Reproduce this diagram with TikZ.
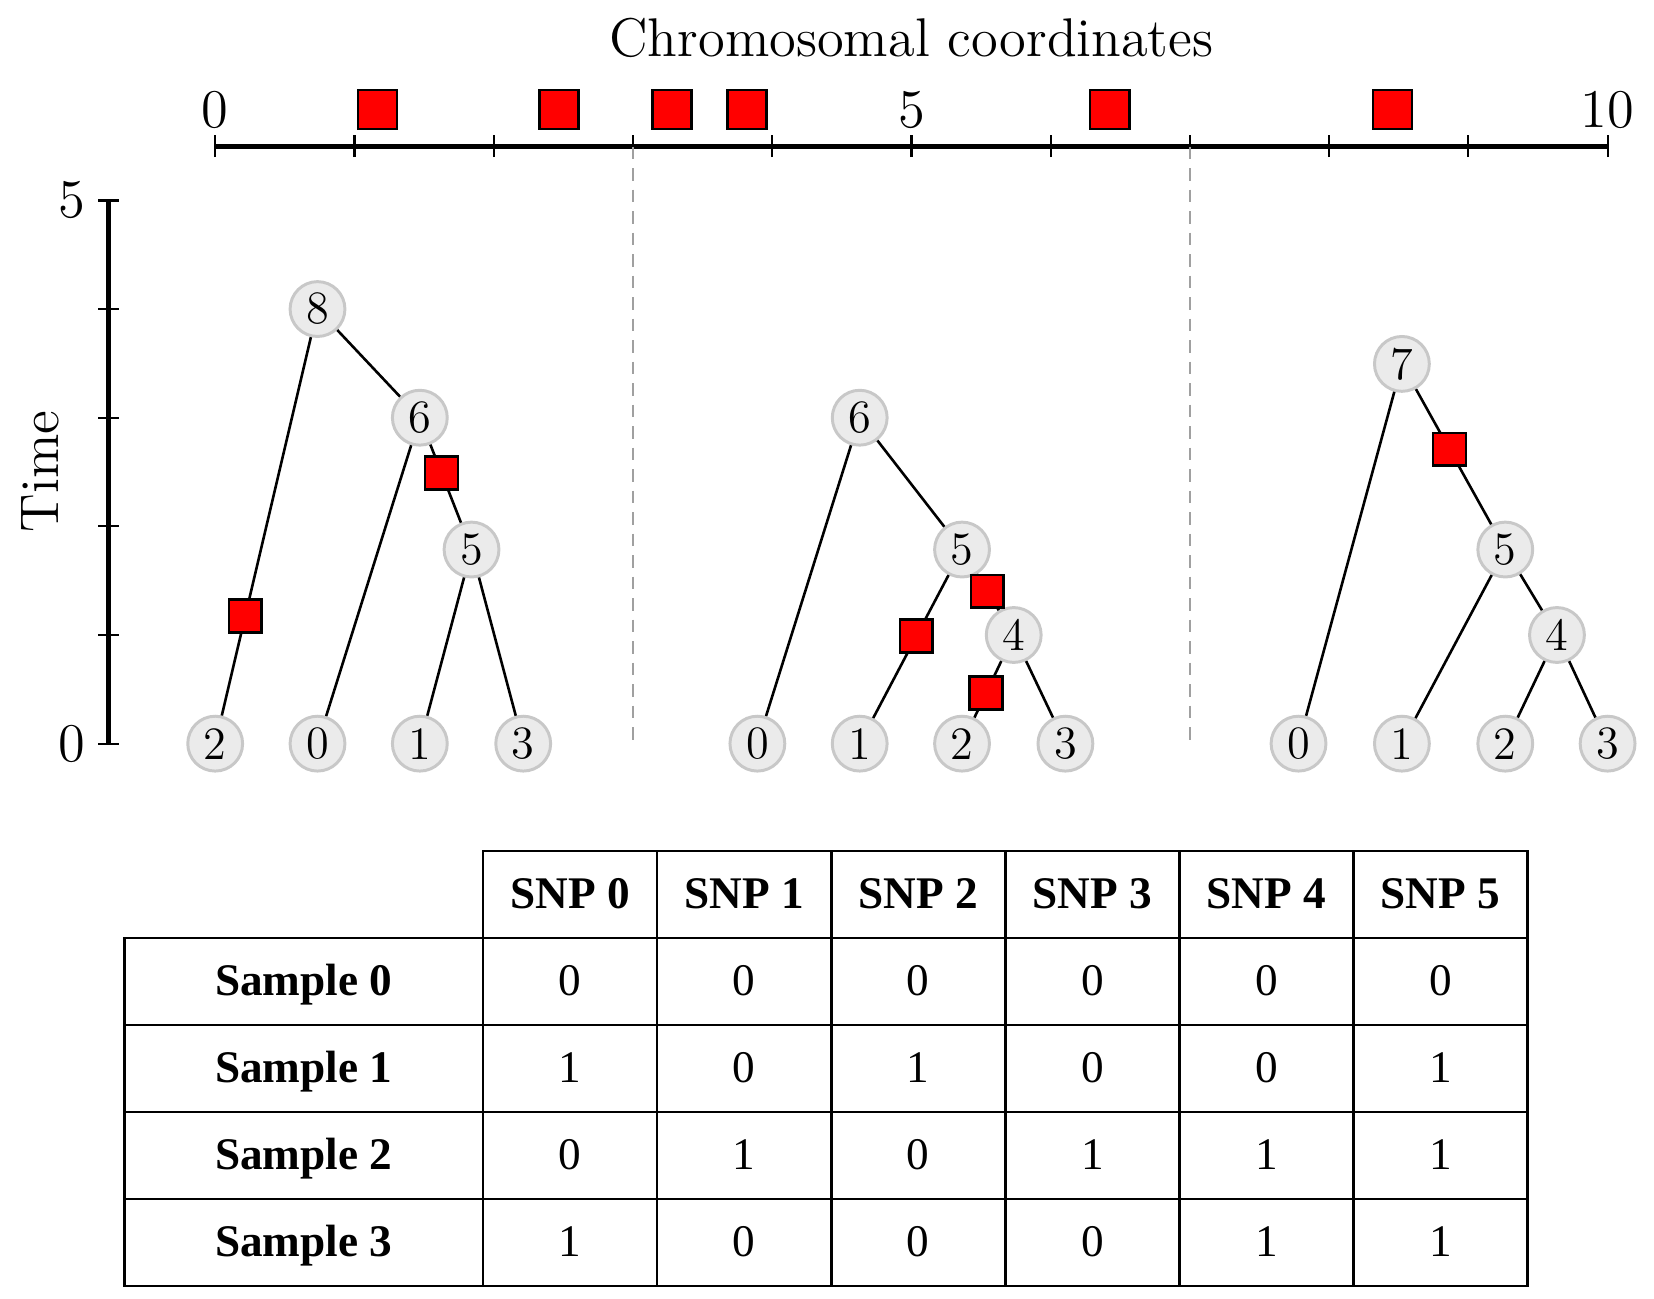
\documentclass[tikz,border=0pt]{standalone}
\usepackage{fontspec}
\usepackage{tikz}
\usetikzlibrary{calc}
\newfontfamily\tabfont{Liberation Serif}
\definecolor{mutred}{RGB}{255,0,0}
\definecolor{nodegray}{RGB}{235,235,235}
\definecolor{nodeedge}{RGB}{200,200,200}
\definecolor{dashgray}{RGB}{160,160,160}
\tikzset{
  treenode/.style={circle, fill=nodegray, draw=nodeedge, line width=0.8pt,
    minimum size=0.52cm, inner sep=0pt, font=\fontsize{12.5}{15}\selectfont},
  mutsq/.style={rectangle, fill=mutred, draw=black, line width=0.7pt,
    minimum size=0.31cm, inner sep=0pt},
  axismut/.style={mutsq, minimum size=0.37cm},
  branch/.style={line width=0.7pt, color=black},
  axisline/.style={line width=1.5pt, color=black},
  tick/.style={line width=0.6pt, color=black},
  breakline/.style={dashgray, line width=0.6pt, dash pattern=on 3.4pt off 2.4pt},
  axislabel/.style={inner sep=0pt, font=\fontsize{14.7}{17}\selectfont},
  hdrcell/.style={rectangle, draw=black, line width=0.7pt, minimum width=1.65cm,
    minimum height=0.825cm, inner sep=0pt, text height=1.75ex, text depth=0pt,
    font=\tabfont\bfseries\fontsize{12.2}{14}\selectfont},
  samplecell/.style={hdrcell, minimum width=3.4cm},
  valcell/.style={hdrcell, font=\tabfont\fontsize{12.2}{14}\selectfont}
}
\begin{document}
\begin{tikzpicture}
  \useasboundingbox (-2.04,-5.26) rectangle (13.64,7.05);

  % Chromosome axis
  \node[axislabel] (chromtitle) at (6.6, 6.69) {Chromosomal coordinates};
  \draw[axisline] (0, 5.66) -- (13.2, 5.66);
  \foreach \c in {0,...,10}
    \draw[tick] ({1.32*\c}, 5.56) -- ({1.32*\c}, 5.77);
  \foreach \c in {0,5,10}
    \node[axislabel] (pos\c) at ({1.32*\c}, 6.01) {\c};

  % SNP positions
  \foreach \x [count=\k from 0] in {1.54, 3.26, 4.33, 5.04, 8.48, 11.16}
    \node[axismut] (snppos\k) at (\x, 6.01) {};

  % Tree breakpoints
  \draw[breakline] (3.96, 5.66) -- (3.96, 0);
  \draw[breakline] (9.24, 5.66) -- (9.24, 0);

  % Time axis
  \draw[axisline] (-1.01, 0) -- (-1.01, 5.15);
  \foreach \t in {0,...,5}
    \draw[tick] (-1.11, {1.03*\t}) -- (-0.91, {1.03*\t});
  \node[axislabel] (time0) at (-1.36, 0) {0};
  \node[axislabel] (time5) at (-1.36, 5.15) {5};
  \node[axislabel, rotate=90] (timelabel) at (-1.66, 2.58) {Time};

  % Tree 1 (interval 0--3)
  \node[treenode] (a2) at (0, 0) {2};
  \node[treenode] (a0) at (0.97, 0) {0};
  \node[treenode] (a1) at (1.94, 0) {1};
  \node[treenode] (a3) at (2.92, 0) {3};
  \node[treenode] (a5) at (2.43, 1.84) {5};
  \node[treenode] (a6) at (1.94, 3.09) {6};
  \node[treenode] (a8) at (0.97, 4.12) {8};
  \draw[branch] (a8) -- (a2);
  \draw[branch] (a8) -- (a6);
  \draw[branch] (a6) -- (a0);
  \draw[branch] (a6) -- (a5);
  \draw[branch] (a5) -- (a1);
  \draw[branch] (a5) -- (a3);
  \node[mutsq] (am0) at ($(a8)!0.706!(a2)$) {};
  \node[mutsq] (am1) at ($(a6)!0.42!(a5)$) {};

  % Tree 2 (interval 3--7)
  \node[treenode] (b0) at (5.14, 0) {0};
  \node[treenode] (b1) at (6.11, 0) {1};
  \node[treenode] (b2) at (7.08, 0) {2};
  \node[treenode] (b3) at (8.06, 0) {3};
  \node[treenode] (b4) at (7.57, 1.03) {4};
  \node[treenode] (b5) at (7.08, 1.84) {5};
  \node[treenode] (b6) at (6.11, 3.09) {6};
  \draw[branch] (b6) -- (b0);
  \draw[branch] (b6) -- (b5);
  \draw[branch] (b5) -- (b1);
  \draw[branch] (b5) -- (b4);
  \draw[branch] (b4) -- (b2);
  \draw[branch] (b4) -- (b3);
  \node[mutsq] (bm0) at ($(b5)!0.446!(b1)$) {};
  \node[mutsq] (bm1) at ($(b5)!0.49!(b4)$) {};
  \node[mutsq] (bm2) at ($(b4)!0.534!(b2)$) {};

  % Tree 3 (interval 7--10)
  \node[treenode] (c0) at (10.27, 0) {0};
  \node[treenode] (c1) at (11.25, 0) {1};
  \node[treenode] (c2) at (12.23, 0) {2};
  \node[treenode] (c3) at (13.2, 0) {3};
  \node[treenode] (c4) at (12.72, 1.03) {4};
  \node[treenode] (c5) at (12.23, 1.84) {5};
  \node[treenode] (c7) at (11.25, 3.6) {7};
  \draw[branch] (c7) -- (c0);
  \draw[branch] (c7) -- (c5);
  \draw[branch] (c5) -- (c1);
  \draw[branch] (c5) -- (c4);
  \draw[branch] (c4) -- (c2);
  \draw[branch] (c4) -- (c3);
  \node[mutsq] (cm0) at ($(c7)!0.46!(c5)$) {};

  % Genotype table
  \foreach \j in {0,...,5}
    \node[hdrcell] (snp\j) at ({3.365+1.65*\j}, -1.43) {SNP \j};
  \foreach \row [count=\i from 0] in {{0,0,0,0,0,0},{1,0,1,0,0,1},{0,1,0,1,1,1},{1,0,0,0,1,1}} {
    \node[samplecell] (smp\i) at (0.84, {-2.255-0.825*\i}) {Sample \i};
    \foreach \v [count=\j from 0] in \row
      \node[valcell] (g\i\j) at ({3.365+1.65*\j}, {-2.255-0.825*\i}) {\v};
  }
\end{tikzpicture}
\end{document}
